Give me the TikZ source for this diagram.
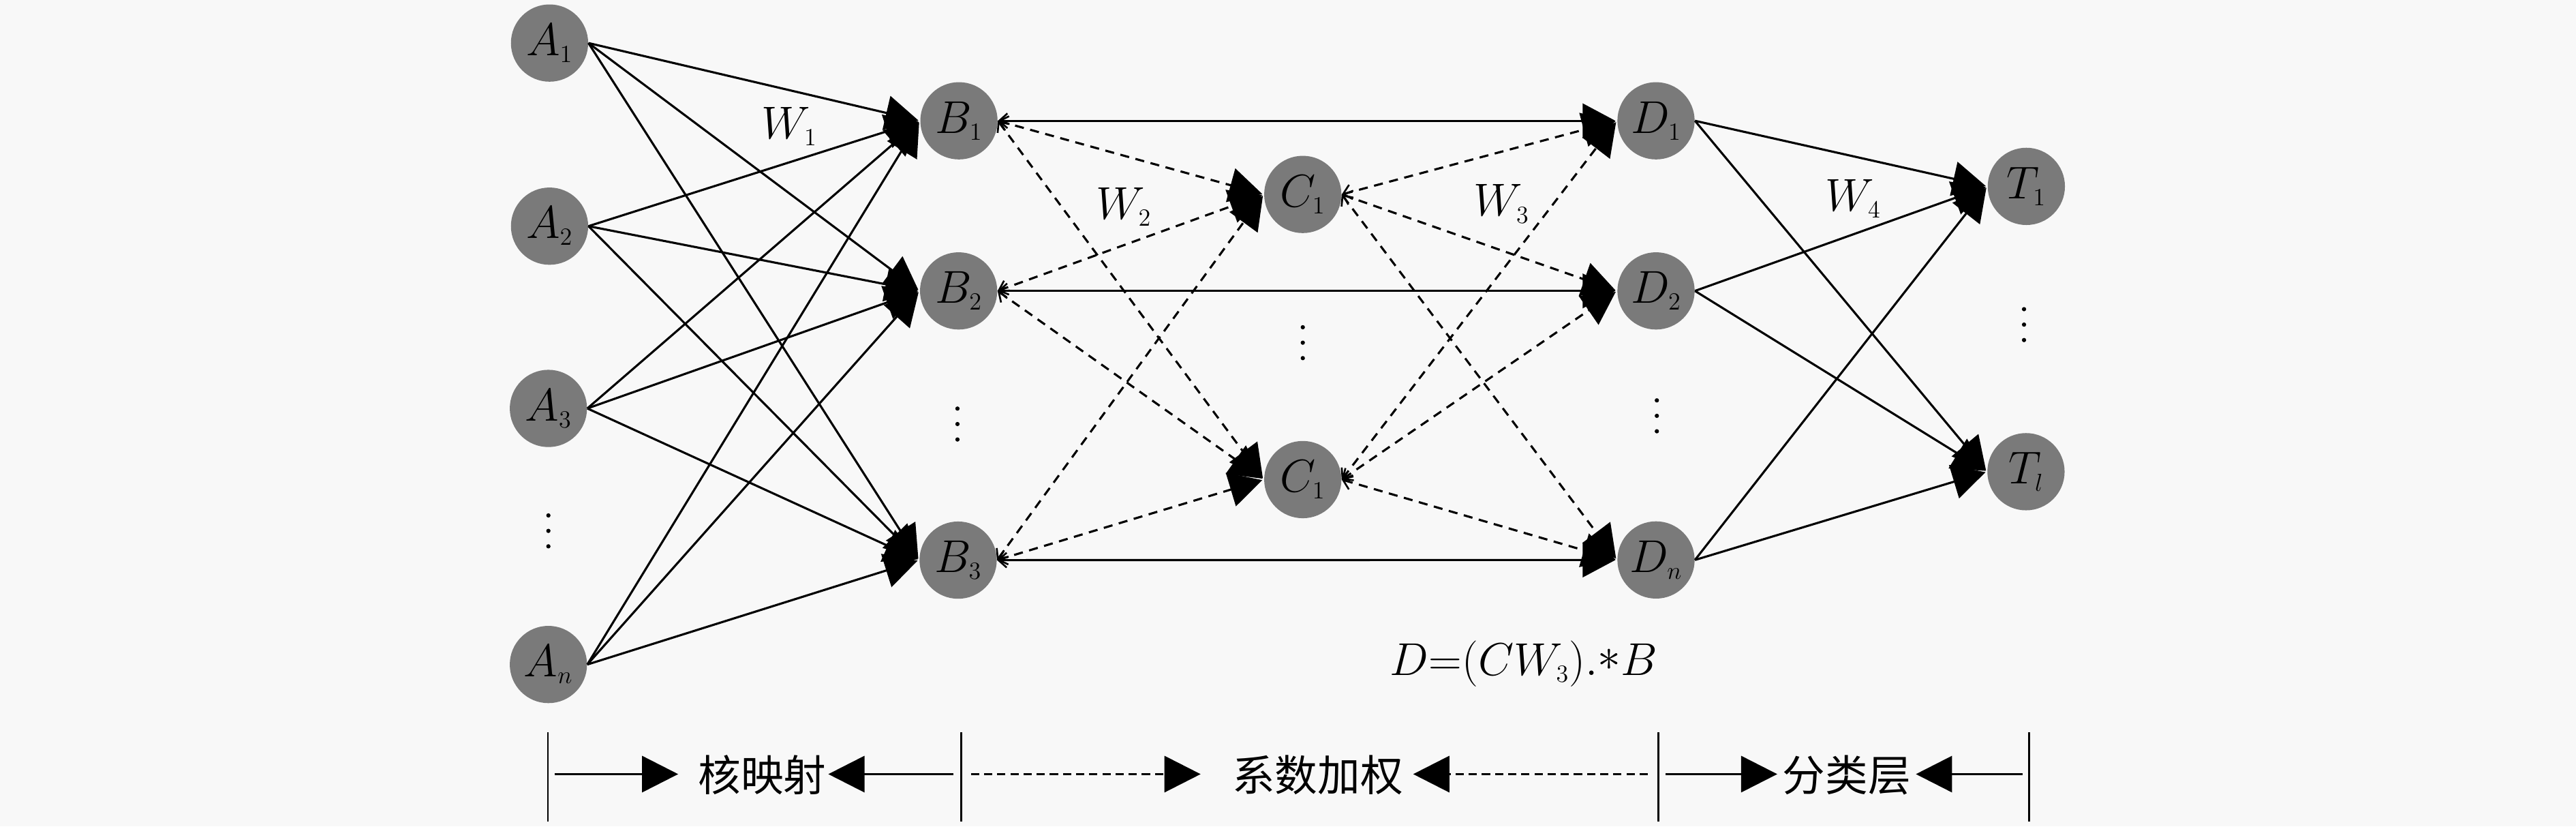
\RequirePackage{fix-cm}
\documentclass[tikz,border=0pt]{standalone}
\usepackage[no-math]{fontspec}
\newfontfamily\cjk{Noto Sans CJK SC}
\usetikzlibrary{arrows.meta}
\DeclareMathSizes{28}{28}{15}{11}
\definecolor{bgc}{RGB}{248,248,248}
\definecolor{ndc}{RGB}{122,122,122}
\begin{document}
\begin{tikzpicture}[x=1pt,y=-1pt,
  nd/.style={circle,fill=ndc,draw=none,minimum size=47pt,inner sep=0pt,font=\fontsize{28}{30}\selectfont},
  lbl/.style={inner sep=0pt,font=\fontsize{28}{30}\selectfont},
  edge/.style={line width=1.3pt,-{Triangle[length=20pt,width=21pt]},shorten >=1pt},
  edgeb/.style={line width=1.3pt,{Straight Barb[length=5pt,width=9pt,line width=1.1pt]}-{Triangle[length=20pt,width=21pt]},shorten >=1pt},
  dsh/.style={dash pattern=on 5.5pt off 4pt},
  bar/.style={line width=1.1pt},
  bot/.style={line width=1.4pt,-{Triangle[length=22pt,width=22pt]}},
  botd/.style={bot,dash pattern=on 5pt off 3pt},
  cj/.style={inner sep=0pt,font=\cjk\fontsize{26}{28}\selectfont}
]
\fill[bgc] (0,0) rectangle (1568,502.76);
\useasboundingbox (0,0) rectangle (1568,502.76);

% nodes
\node[nd] (A1) at (334.5,26.2) {$A_1$};
\node[nd] (A2) at (334.5,137.6) {$A_2$};
\node[nd] (A3) at (333.8,248.5) {$A_3$};
\node[nd] (An) at (333.8,404.3) {$A_n$};
\node[nd] (B1) at (583.7,73.5) {$B_1$};
\node[nd] (B2) at (583.5,177) {$B_2$};
\node[nd] (B3) at (583.2,340.8) {$B_3$};
\node[nd] (C1) at (793,118.3) {$C_1$};
\node[nd] (C2) at (793,291.8) {$C_1$};
\node[nd] (D1) at (1008,73.5) {$D_1$};
\node[nd] (D2) at (1008,177) {$D_2$};
\node[nd] (Dn) at (1008,340.7) {$D_n$};
\node[nd] (T1) at (1233.4,113.4) {$T_1$};
\node[nd] (Tl) at (1233.2,287) {$T_l$};

% vertical dots
\foreach \x/\y in {333.8/323, 582.8/258, 793/208.5, 1008.5/253, 1232/197.5}
  \foreach \d in {-9.4,0,9.4}
    \fill (\x,\y+\d) circle (1.3pt);

% labels
\node[lbl] (W1) at (480.5,77) {$W_1$};
\node[lbl] (W2) at (684,126) {$W_2$};
\node[lbl] (W3) at (914,124) {$W_3$};
\node[lbl] (W4) at (1128,121) {$W_4$};
\node[lbl] (eq) at (927.5,404) {$D{=}(CW_3).\raisebox{3pt}{$\ast$}B$};

% edges
\foreach \a in {A1,A2,A3,An}
  \foreach \b in {B1,B2,B3}
    \draw[edge] (\a.east) -- (\b.west);
\foreach \b/\d in {B1/D1,B2/D2,B3/Dn}
  \draw[edgeb] (\b.east) -- (\d.west);
\foreach \b in {B1,B2,B3}
  \foreach \c in {C1,C2}
    \draw[edgeb,dsh] (\b.east) -- (\c.west);
\foreach \c in {C1,C2}
  \foreach \d in {D1,D2,Dn}
    \draw[edgeb,dsh] (\c.east) -- (\d.west);
\foreach \d in {D1,D2,Dn}
  \foreach \t in {T1,Tl}
    \draw[edge] (\d.east) -- (\t.west);

% bottom bars
\foreach \i/\x in {1/333.5,2/585,3/1009.5,4/1235.2}{
  \coordinate (bt\i) at (\x,445.7);
  \coordinate (bb\i) at (\x,500);
  \draw[bar] (bt\i) -- (bb\i);
}
\node[cj] (k1) at (464,471.5) {核映射};
\node[cj] (k2) at (802,471.5) {系数加权};
\node[cj] (k3) at (1124,471.5) {分类层};

\coordinate (s1a) at (337.5,471); \coordinate (s1b) at (k1.west);
\coordinate (s1c) at (580.5,471); \coordinate (s1d) at (k1.east);
\coordinate (s2a) at (591,471); \coordinate (s2b) at (k2.west);
\coordinate (s2c) at (1003,471); \coordinate (s2d) at (k2.east);
\coordinate (s3a) at (1014,471); \coordinate (s3b) at (k3.west);
\coordinate (s3c) at (1231,471); \coordinate (s3d) at (k3.east);

\draw[bot] (s1a) -- ([xshift=-12pt]s1b |- s1a);
\draw[bot] (s1c) -- ([xshift=1pt]s1d |- s1c);
\draw[botd] (s2a) -- ([xshift=-19pt]s2b |- s2a);
\draw[botd] (s2c) -- ([xshift=6pt]s2d |- s2c);
\draw[bot] (s3a) -- ([xshift=-3pt]s3b |- s3a);
\draw[bot] (s3c) -- ([xshift=3pt]s3d |- s3c);
\end{tikzpicture}
\end{document}
